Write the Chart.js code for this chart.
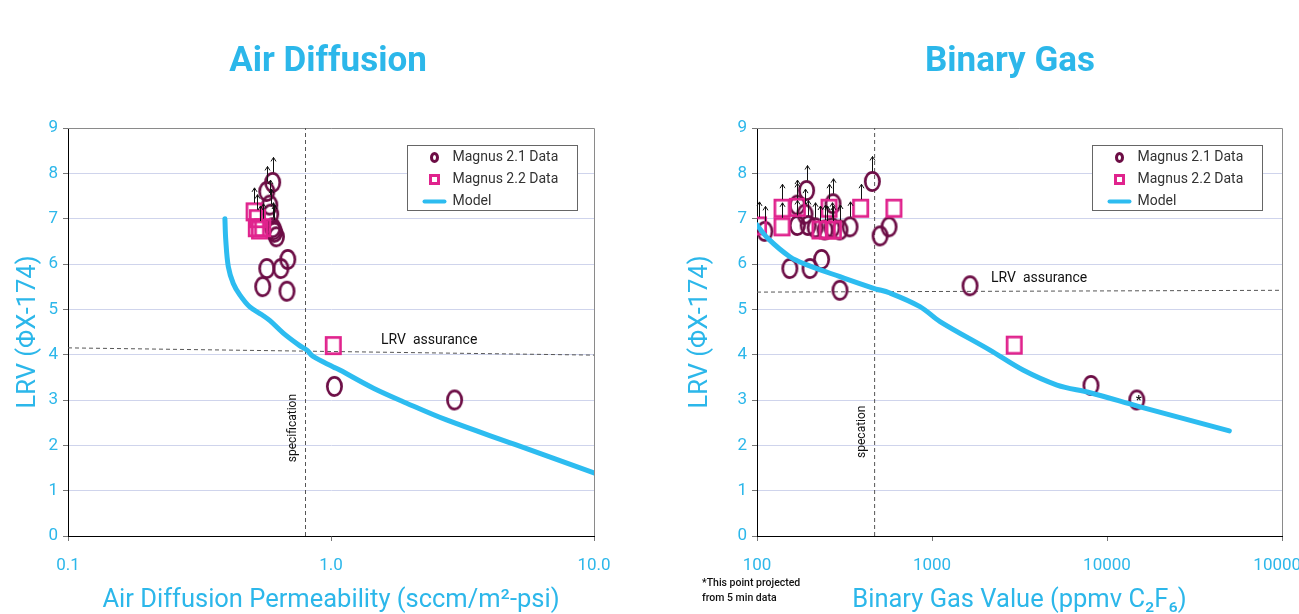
<!DOCTYPE html>
<html>
<head>
<meta charset="utf-8">
<script src="https://cdn.jsdelivr.net/npm/chart.js@4.4.1/dist/chart.umd.min.js"></script>
<style>
  html, body { margin: 0; padding: 0; background: #fff; width: 1299px; height: 614px; overflow: hidden; }
  .panel { position: absolute; top: 0; }
  #airWrap { left: 0; }
  #gasWrap { left: 650px; }
</style>
</head>
<body>
<div class="panel" id="airWrap"><canvas id="airChart" width="656" height="614"></canvas></div>
<div class="panel" id="gasWrap"><canvas id="gasChart" width="720" height="614"></canvas></div>
<script>
// ---------- Air diffusion panel ----------
const air21X  = [0.60, 0.57, 0.585, 0.59, 0.60, 0.61, 0.62, 0.605, 0.57, 0.645, 0.685, 0.55, 0.68, 1.03, 2.95];
const air21Y  = [7.8, 7.6, 7.3, 7.1, 6.8, 6.7, 6.6, 6.75, 5.9, 5.9, 6.1, 5.5, 5.4, 3.3, 3.0];
const air21Up = [1, 1, 1, 1, 1, 0, 0, 1, 0, 0, 0, 0, 0, 0, 0];

const air22X  = [0.51, 0.52, 0.535, 0.55, 0.525, 1.02];
const air22Y  = [7.15, 6.8, 6.75, 6.8, 7.0, 4.2];
const air22Up = [1, 0, 1, 1, 1, 0];

const airModelX = [0.395, 0.398, 0.407, 0.425, 0.45, 0.49, 0.546, 0.586, 0.66, 0.76, 0.81, 0.855, 1.02, 1.08, 1.45, 1.94, 2.75, 5.0, 10.0];
const airModelY = [7.0, 6.53, 5.94, 5.57, 5.32, 5.06, 4.88, 4.75, 4.47, 4.2, 4.1, 3.96, 3.73, 3.66, 3.26, 2.93, 2.56, 2.02, 1.39];

const airSpecX   = 0.8;
const airAssureX = [0.1, 10];
const airAssureY = [4.15, 3.99];
const airTickValues = [0.1, 1, 10];
const airTickLabels = ['0.1', '1.0', '10.0'];

// ---------- Binary gas panel ----------
const gas21X  = [111, 154, 201, 234, 298, 192, 170, 188, 170, 196, 215, 245, 272, 268, 298, 340, 456, 505, 568, 1650, 8100, 14800];
const gas21Y  = [6.72, 5.9, 5.9, 6.1, 5.42, 7.62, 7.3, 7.1, 6.85, 6.85, 6.8, 6.75, 7.33, 6.8, 6.75, 6.82, 7.82, 6.62, 6.82, 5.52, 3.32, 3.0];
const gas21Up = [1, 0, 0, 0, 0, 1, 1, 1, 1, 1, 1, 1, 1, 1, 1, 1, 1, 0, 0, 0, 0, 0];

const gas22X  = [102, 139, 139, 170, 229, 252, 273, 258, 391, 606, 2950];
const gas22Y  = [6.84, 7.23, 6.82, 7.25, 6.75, 6.75, 6.75, 7.23, 7.23, 7.23, 4.21];
const gas22Up = [1, 1, 1, 1, 1, 1, 1, 1, 1, 0, 0];

const gasModelX = [100, 115, 154, 193, 298, 460, 575, 853, 1111, 2143, 3312, 5180, 8000, 15450, 50000];
const gasModelY = [6.86, 6.57, 6.16, 5.98, 5.72, 5.47, 5.36, 5.06, 4.73, 4.10, 3.66, 3.33, 3.16, 2.85, 2.32];

const gasSpecX   = 470;
const gasAssureX = [100, 100000];
const gasAssureY = [5.38, 5.42];
const gasStarX   = [14800];
const gasStarY   = [3.0];
const gasTickValues = [100, 1000, 10000, 100000];
const gasTickLabels = ['100', '1000', '10000', '100000'];

const seriesNames = ['Magnus 2.1 Data', 'Magnus 2.2 Data', 'Model'];
const footnoteLines = ['*This point projected', 'from 5 min data'];

// ---------- shared styling ----------
const CYAN = '#2cb7ea';
const MODEL = '#2dbcf0';
const M21 = '#6c0d45';
const M22 = '#e0238d';
const FONT = 'Roboto, "DejaVu Sans", sans-serif';

function pts(xs, ys) { return xs.map((x, i) => ({ x: x, y: ys[i] })); }

function ringMarker(w, h, color, lw) {
  const c = document.createElement('canvas');
  c.width = w + 2; c.height = h + 2;
  const g = c.getContext('2d');
  g.strokeStyle = color; g.lineWidth = lw;
  g.beginPath();
  g.ellipse(c.width / 2, c.height / 2, (w - lw) / 2, (h - lw) / 2, 0, 0, Math.PI * 2);
  g.stroke();
  return c;
}
function boxMarker(w, h, color, lw) {
  const c = document.createElement('canvas');
  c.width = w + 2; c.height = h + 2;
  const g = c.getContext('2d');
  g.strokeStyle = color; g.lineWidth = lw;
  g.strokeRect(1 + lw / 2, 1 + lw / 2, w - lw, h - lw);
  return c;
}
const circleStyle = ringMarker(17, 21, M21, 2.7);
const squareStyle = boxMarker(17, 19, M22, 2.7);

// upward arrows on points that are lower bounds
const upArrows = {
  id: 'upArrows',
  afterDatasetsDraw(chart) {
    const ctx = chart.ctx;
    chart.data.datasets.forEach((ds, di) => {
      if (!ds.upFlags) return;
      const meta = chart.getDatasetMeta(di);
      meta.data.forEach((el, i) => {
        if (!ds.upFlags[i]) return;
        const x = Math.round(el.x) + 0.5;
        const y0 = el.y - ds.markHalf;
        const y1 = y0 - 15;
        ctx.save();
        ctx.strokeStyle = '#111';
        ctx.lineWidth = 1;
        ctx.beginPath();
        ctx.moveTo(x, y0); ctx.lineTo(x, y1);
        ctx.moveTo(x - 2.5, y1 + 4); ctx.lineTo(x, y1); ctx.lineTo(x + 2.5, y1 + 4);
        ctx.stroke();
        ctx.restore();
      });
    });
  }
};

// grey top / right frame of the plot area
const plotFrame = {
  id: 'plotFrame',
  beforeDatasetsDraw(chart) {
    const { ctx, chartArea: a } = chart;
    ctx.save();
    ctx.strokeStyle = '#8a8a8a';
    ctx.lineWidth = 1;
    ctx.beginPath();
    ctx.moveTo(a.left, Math.round(a.top) + 0.5);
    ctx.lineTo(Math.round(a.right) + 0.5, Math.round(a.top) + 0.5);
    ctx.lineTo(Math.round(a.right) + 0.5, a.bottom);
    ctx.stroke();
    ctx.restore();
  }
};

// panel heading, centred over the whole panel
function headingPlugin(text, cx) {
  return {
    id: 'panelHeading',
    afterDraw(chart) {
      const ctx = chart.ctx;
      ctx.save();
      ctx.fillStyle = CYAN;
      ctx.font = 'bold 35px ' + FONT;
      ctx.textAlign = 'center';
      ctx.textBaseline = 'middle';
      ctx.fillText(text, cx, 62);
      ctx.restore();
    }
  };
}

// notes: assurance label, spec label, legend box, extra texts
function notesPlugin(opts) {
  return {
    id: 'panelNotes',
    afterDatasetsDraw(chart) {
      const { ctx, chartArea: a } = chart;
      const xs = chart.scales.x, ys = chart.scales.y;
      ctx.save();
      ctx.fillStyle = '#111';
      ctx.font = '14px ' + FONT;
      ctx.textBaseline = 'middle';
      ctx.textAlign = 'left';
      ctx.fillText('LRV  assurance', xs.getPixelForValue(opts.assureLabelX), ys.getPixelForValue(opts.assureLabelY));

      ctx.save();
      ctx.translate(xs.getPixelForValue(opts.specX) - 13, ys.getPixelForValue(opts.specLabelY));
      ctx.rotate(-Math.PI / 2);
      ctx.textAlign = 'center';
      ctx.font = '12px ' + FONT;
      ctx.fillText(opts.specText, 0, 0);
      ctx.restore();

      if (opts.starX) {
        ctx.font = 'bold 13px ' + FONT;
        ctx.textAlign = 'center';
        opts.starX.forEach((v, i) => {
          ctx.fillText('*', xs.getPixelForValue(v) + 2, ys.getPixelForValue(opts.starY[i]) + 1);
        });
      }

      // legend box
      const bx = Math.round(a.right - opts.legendRight - 170) + 0.5;
      const by = Math.round(a.top + 17) + 0.5;
      ctx.fillStyle = '#fff';
      ctx.fillRect(bx, by, 170, 65);
      ctx.strokeStyle = '#666';
      ctx.lineWidth = 1;
      ctx.strokeRect(bx, by, 170, 65);
      const rows = [by + 12, by + 34, by + 56];
      ctx.lineWidth = 3;
      ctx.strokeStyle = M21;
      ctx.beginPath(); ctx.ellipse(bx + 27, rows[0], 3, 4, 0, 0, Math.PI * 2); ctx.stroke();
      ctx.strokeStyle = M22;
      ctx.strokeRect(bx + 23, rows[1] - 4, 8, 8);
      ctx.strokeStyle = MODEL;
      ctx.lineWidth = 4;
      ctx.lineCap = 'round';
      ctx.beginPath(); ctx.moveTo(bx + 17, rows[2]); ctx.lineTo(bx + 37, rows[2]); ctx.stroke();
      ctx.fillStyle = '#333';
      ctx.font = '14px ' + FONT;
      ctx.textAlign = 'left';
      seriesNames.forEach((t, i) => ctx.fillText(t, bx + 45, rows[i]));

      if (opts.footnote) {
        ctx.fillStyle = '#111';
        ctx.font = '500 10.5px ' + FONT;
        ctx.fillText(opts.footnote[0], 52, 583);
        ctx.fillText(opts.footnote[1], 52, 598);
      }
      ctx.restore();
    }
  };
}

function buildPanel(canvasId, p) {
  const datasets = [
    { type: 'line', label: seriesNames[2], data: pts(p.modelX, p.modelY), borderColor: MODEL, borderWidth: 5,
      pointRadius: 0, tension: 0.35, fill: false, order: 0, borderCapStyle: 'round' },
    { type: 'scatter', label: seriesNames[0], data: pts(p.m21X, p.m21Y), pointStyle: circleStyle, pointRadius: 9,
      upFlags: p.m21Up, markHalf: 10, order: 2 },
    { type: 'scatter', label: seriesNames[1], data: pts(p.m22X, p.m22Y), pointStyle: squareStyle, pointRadius: 9,
      upFlags: p.m22Up, markHalf: 9, order: 1 },
    { type: 'line', label: 'spec', data: [{ x: p.specX, y: 0 }, { x: p.specX, y: 9 }], borderColor: '#555',
      borderWidth: 1, borderDash: [4, 3], pointRadius: 0, order: 5 },
    { type: 'line', label: 'assurance', data: pts(p.assureX, p.assureY), borderColor: '#555',
      borderWidth: 1, borderDash: [4, 3], pointRadius: 0, order: 5 }
  ];
  return new Chart(document.getElementById(canvasId), {
    type: 'scatter',
    data: { datasets: datasets },
    options: {
      responsive: false,
      animation: false,
      layout: { padding: { left: 0, right: p.padRight, top: 128, bottom: 0 } },
      plugins: {
        legend: { display: false },
        tooltip: { enabled: false },
        title: { display: false }
      },
      scales: {
        x: {
          type: 'logarithmic', min: p.tickValues[0], max: p.tickValues[p.tickValues.length - 1],
          afterBuildTicks: (s) => { s.ticks = p.tickValues.map(v => ({ value: v })); },
          afterFit: (s) => { s.height = 78; },
          ticks: { color: CYAN, font: { family: FONT, size: 17 }, padding: 15, maxRotation: 0, autoSkip: false,
                   callback: (v, i) => p.tickLabels[i] },
          grid: { drawOnChartArea: false, tickLength: 5, tickColor: '#777' },
          border: { color: '#000', width: 1 },
          title: { display: true, text: p.xTitle, color: CYAN, font: { family: FONT, size: 25.5 }, padding: { top: 0, bottom: -2 } }
        },
        y: {
          min: 0, max: 9,
          afterFit: (s) => { s.width = p.yWidth; },
          ticks: { stepSize: 1, color: CYAN, font: { family: FONT, size: 17 }, padding: 5 },
          grid: { color: '#cfd4ec', lineWidth: 1, tickLength: 5, tickColor: '#777' },
          border: { color: '#000', width: 1 },
          title: { display: true, text: 'LRV (ΦX-174)', color: CYAN, font: { family: FONT, size: 25.5 },
                   padding: { top: p.yTitlePad, bottom: 0 } }
        }
      }
    },
    plugins: [plotFrame, upArrows, notesPlugin(p.notes), headingPlugin(p.title, p.titleX)]
  });
}

buildPanel('airChart', {
  title: 'Air Diffusion', titleX: 328, xTitle: 'Air Diffusion Permeability (sccm/m²-psi)',
  m21X: air21X, m21Y: air21Y, m21Up: air21Up,
  m22X: air22X, m22Y: air22Y, m22Up: air22Up,
  modelX: airModelX, modelY: airModelY,
  specX: airSpecX, assureX: airAssureX, assureY: airAssureY,
  tickValues: airTickValues, tickLabels: airTickLabels,
  yWidth: 68, padRight: 62, yTitlePad: 13,
  notes: { assureLabelX: 1.55, assureLabelY: 4.32, specX: airSpecX, specLabelY: 2.38, specText: 'specification', legendRight: 17 }
});

buildPanel('gasChart', {
  title: 'Binary Gas', titleX: 360, xTitle: 'Binary Gas Value (ppmv C₂F₆)',
  m21X: gas21X, m21Y: gas21Y, m21Up: gas21Up,
  m22X: gas22X, m22Y: gas22Y, m22Up: gas22Up,
  modelX: gasModelX, modelY: gasModelY,
  specX: gasSpecX, assureX: gasAssureX, assureY: gasAssureY,
  tickValues: gasTickValues, tickLabels: gasTickLabels,
  yWidth: 107, padRight: 88, yTitlePad: 35,
  notes: { assureLabelX: 2173, assureLabelY: 5.67, specX: gasSpecX, specLabelY: 2.3, specText: 'specation',
           legendRight: 20, starX: gasStarX, starY: gasStarY, footnote: footnoteLines }
});
</script>
</body>
</html>
